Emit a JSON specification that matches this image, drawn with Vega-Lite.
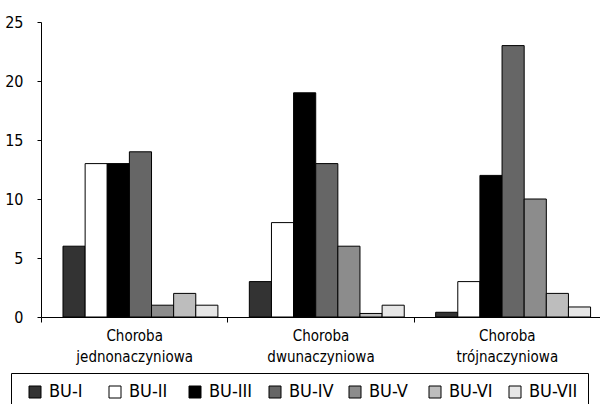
{
  "$schema": "https://vega.github.io/schema/vega-lite/v6.json",
  "width": 559,
  "height": 295,
  "autosize": {"type": "none"},
  "padding": {"left": 41, "top": 22, "right": 0, "bottom": 87},
  "background": "white",
  "config": {
    "view": {"stroke": null},
    "font": "DejaVu Sans Condensed",
    "axis": {"labelFont": "DejaVu Sans Condensed", "labelColor": "black", "domainColor": "black", "tickColor": "black", "grid": false, "title": null},
    "legend": {"labelFont": "DejaVu Sans Condensed"}
  },
  "data": {
    "values": [
      {"grupa": "Choroba jednonaczyniowa", "typ": "BU-I", "n": 6},
      {"grupa": "Choroba jednonaczyniowa", "typ": "BU-II", "n": 13},
      {"grupa": "Choroba jednonaczyniowa", "typ": "BU-III", "n": 13},
      {"grupa": "Choroba jednonaczyniowa", "typ": "BU-IV", "n": 14},
      {"grupa": "Choroba jednonaczyniowa", "typ": "BU-V", "n": 1},
      {"grupa": "Choroba jednonaczyniowa", "typ": "BU-VI", "n": 2},
      {"grupa": "Choroba jednonaczyniowa", "typ": "BU-VII", "n": 1},
      {"grupa": "Choroba dwunaczyniowa", "typ": "BU-I", "n": 3},
      {"grupa": "Choroba dwunaczyniowa", "typ": "BU-II", "n": 8},
      {"grupa": "Choroba dwunaczyniowa", "typ": "BU-III", "n": 19},
      {"grupa": "Choroba dwunaczyniowa", "typ": "BU-IV", "n": 13},
      {"grupa": "Choroba dwunaczyniowa", "typ": "BU-V", "n": 6},
      {"grupa": "Choroba dwunaczyniowa", "typ": "BU-VI", "n": 0.3},
      {"grupa": "Choroba dwunaczyniowa", "typ": "BU-VII", "n": 1},
      {"grupa": "Choroba trójnaczyniowa", "typ": "BU-I", "n": 0.4},
      {"grupa": "Choroba trójnaczyniowa", "typ": "BU-II", "n": 3},
      {"grupa": "Choroba trójnaczyniowa", "typ": "BU-III", "n": 12},
      {"grupa": "Choroba trójnaczyniowa", "typ": "BU-IV", "n": 23},
      {"grupa": "Choroba trójnaczyniowa", "typ": "BU-V", "n": 10},
      {"grupa": "Choroba trójnaczyniowa", "typ": "BU-VI", "n": 2},
      {"grupa": "Choroba trójnaczyniowa", "typ": "BU-VII", "n": 0.85}
    ]
  },
  "mark": {"type": "bar", "stroke": "black", "strokeWidth": 1},
  "encoding": {
    "x": {
      "field": "grupa", "type": "nominal", "sort": null,
      "scale": {"paddingInner": 0, "paddingOuter": 0},
      "axis": {
        "labelAngle": 0, "tickBand": "extent", "tickSize": 5, "labelPadding": 6,
        "labelFontSize": 15, "labelLineHeight": 21, "labelBaseline": "top",
        "labelExpr": "split(datum.label, ' ')", "domainWidth": 1
      }
    },
    "xOffset": {
      "field": "typ", "type": "nominal", "sort": null,
      "scale": {"paddingInner": 0, "paddingOuter": 0.71, "align": 0.7}
    },
    "y": {
      "field": "n", "type": "quantitative",
      "scale": {"domain": [0, 25], "nice": false},
      "axis": {"values": [0, 5, 10, 15, 20, 25], "tickSize": 4, "labelPadding": 14, "labelFontSize": 16}
    },
    "fill": {
      "field": "typ", "type": "nominal", "sort": null,
      "scale": {
        "domain": ["BU-I", "BU-II", "BU-III", "BU-IV", "BU-V", "BU-VI", "BU-VII"],
        "range": ["#333333", "#ffffff", "#000000", "#666666", "#8c8c8c", "#bdbdbd", "#e6e6e6"]
      },
      "legend": {
        "title": null, "orient": "none", "legendX": -30, "legendY": 351,
        "direction": "horizontal", "columns": 7, "gridAlign": "all",
        "symbolType": "square", "symbolSize": 144, "symbolStrokeColor": "black", "symbolStrokeWidth": 1,
        "labelFontSize": 18, "labelOffset": 5, "columnPadding": 3,
        "padding": 10, "symbolOffset": 5, "strokeColor": "black"
      }
    }
  }
}
